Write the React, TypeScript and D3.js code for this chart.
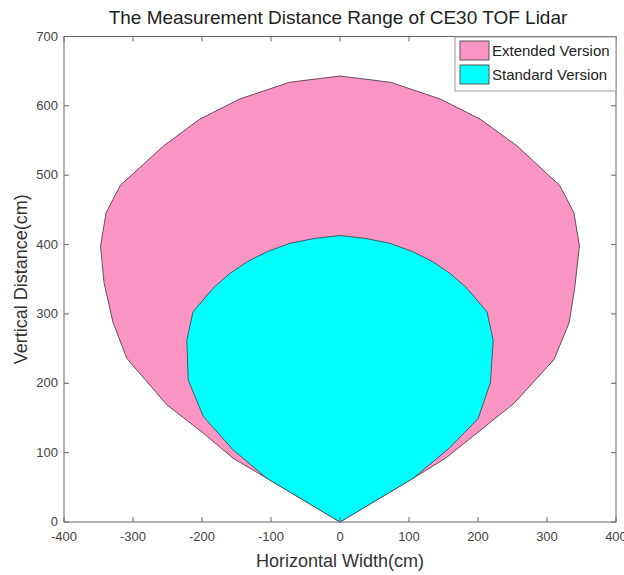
import React from "react";
import * as d3 from "d3";

const title = "The Measurement Distance Range of CE30 TOF Lidar";
const xLabel = "Horizontal Width(cm)";
const yLabel = "Vertical Distance(cm)";
const xTicks = [-400, -300, -200, -100, 0, 100, 200, 300, 400];
const yTicks = [0, 100, 200, 300, 400, 500, 600, 700];
const seriesNames = ["Extended Version", "Standard Version"];
const seriesColors = ["#fb95c4", "#00ffff"];

// Extended version boundary (cm)
const extendedX = [0, -106, -155, -198, -251, -309, -329, -342, -347, -339, -318, -300, -256, -203, -145, -73, 0, 73, 145, 203, 257, 300, 318, 339, 347, 340, 332, 310, 252, 153, 106, 0];
const extendedY = [0, 63, 92, 128, 169, 236, 288, 345, 398, 446, 486, 502, 542, 581, 610, 634, 643, 634, 610, 581, 542, 502, 486, 446, 398, 336, 287, 234, 171, 92, 63, 0];

// Standard version boundary (cm)
const standardX = [0, -106, -155, -198, -220, -222, -213, -184, -160, -135, -105, -72, -36, 0, 36, 72, 105, 135, 160, 184, 213, 222, 218, 200, 160, 106, 0];
const standardY = [0, 63, 104, 152, 205, 262, 303, 337, 358, 375, 390, 402, 409, 413, 409, 402, 390, 375, 358, 337, 303, 262, 201, 149, 108, 63, 0];

export default function App() {
  const W = 624, H = 575;
  const left = 64, right = 616, top = 36.5, bottom = 522;
  const x = d3.scaleLinear().domain([-400, 400]).range([left, right]);
  const y = d3.scaleLinear().domain([0, 700]).range([bottom, top]);
  const line = d3.line<[number, number]>().x(d => x(d[0])).y(d => y(d[1]));
  const ext = extendedX.map((v, i) => [v, extendedY[i]] as [number, number]);
  const std = standardX.map((v, i) => [v, standardY[i]] as [number, number]);
  const font = "Liberation Sans, Arial, sans-serif";
  const axisColor = "#666";
  const tickLen = 5;
  return (
    <svg width={W} height={H} style={{ position: "absolute", left: 0, top: 0, background: "#fff" }} fontFamily={font}>
      <rect x={0} y={0} width={W} height={H} fill="#fff" />
      <path d={line(ext) + "Z"} fill={seriesColors[0]} stroke="#6a4a5c" strokeWidth={1} strokeLinejoin="round" />
      <path d={line(std) + "Z"} fill={seriesColors[1]} stroke="#3f5a66" strokeWidth={1} strokeLinejoin="round" />
      <rect x={left} y={top} width={right - left} height={bottom - top} fill="none" stroke={axisColor} strokeWidth={1} />
      {xTicks.map(t => (
        <g key={"x" + t}>
          <line x1={x(t)} x2={x(t)} y1={bottom} y2={bottom - tickLen} stroke={axisColor} />
          <line x1={x(t)} x2={x(t)} y1={top} y2={top + tickLen} stroke={axisColor} />
          <text x={x(t)} y={bottom + 19} textAnchor="middle" fontSize={13} fill="#444">{t}</text>
        </g>
      ))}
      {yTicks.map(t => (
        <g key={"y" + t}>
          <line x1={left} x2={left + tickLen} y1={y(t)} y2={y(t)} stroke={axisColor} />
          <line x1={right} x2={right - tickLen} y1={y(t)} y2={y(t)} stroke={axisColor} />
          <text x={left - 6} y={y(t) + 4} textAnchor="end" fontSize={13} fill="#444">{t}</text>
        </g>
      ))}
      <text x={(left + right) / 2 - 2} y={24} textAnchor="middle" fontSize={19} fill="#222">{title}</text>
      <text x={(left + right) / 2} y={567} textAnchor="middle" fontSize={18} fill="#333">{xLabel}</text>
      <text transform={`translate(27,${(top + bottom) / 2}) rotate(-90)`} textAnchor="middle" fontSize={18} fill="#333">{yLabel}</text>
      <g>
        <rect x={455} y={37} width={161} height={54} fill="#fff" stroke="#999" strokeWidth={1} />
        {seriesNames.map((n, i) => (
          <g key={n}>
            <rect x={460} y={41 + i * 24} width={29} height={19} fill={seriesColors[i]} stroke="#555" strokeWidth={1} />
            <text x={492} y={56 + i * 24} fontSize={15} fill="#222">{n}</text>
          </g>
        ))}
      </g>
    </svg>
  );
}
